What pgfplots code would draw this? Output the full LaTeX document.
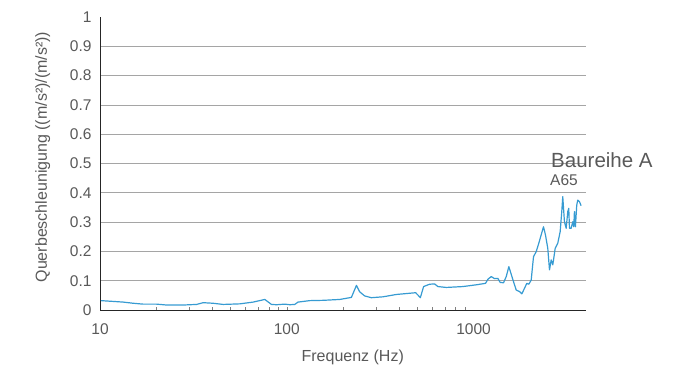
\documentclass[border=0pt]{standalone}
\usepackage{pgfplots}
\pgfplotsset{compat=1.18}
\usepackage{fontspec}
\setmainfont{Liberation Sans}
\definecolor{curveblue}{RGB}{55,155,210}
\definecolor{txtgray}{RGB}{89,89,89}
\definecolor{gridgray}{RGB}{165,165,165}

\begin{document}
\begin{tikzpicture}[x=1pt,y=1pt]
\useasboundingbox (0,0) rectangle (684,370);
\begin{axis}[
  at={(100pt,60pt)}, anchor=south west,
  scale only axis, width=486pt, height=293pt,
  xmode=log, xmin=10, xmax=4000,
  ymin=0, ymax=1,
  xtick={10,100,1000},
  log ticks with fixed point,
  /pgf/number format/1000 sep={},
  ytick={0,0.1,...,0.91},
  extra y ticks={1},
  extra y tick style={grid=none},
  yticklabel style={/pgf/number format/fixed, /pgf/number format/precision=1},
  /pgf/number format/assume math mode=true,
  ymajorgrids, xmajorgrids=false,
  major grid style={gridgray, line width=0.8pt},
  axis x line*=bottom, axis y line*=left,
  axis line style={black!85, line width=0.9pt, -},
  major tick length=0pt, minor tick num=0,
  tick label style={font=\fontsize{15.5}{17}\selectfont, text=txtgray},
  xticklabel style={yshift=-10pt},
  yticklabel style={xshift=-5pt},
  xlabel={Frequenz (Hz)},
  ylabel={Querbeschleunigung ((m/s²)/(m/s²))},
  xlabel style={at={(axis description cs:0.52,-0.163)}, anchor=center,
    font=\fontsize{16}{18}\selectfont, text=txtgray},
  ylabel style={at={(axis description cs:-0.118,0.522)}, anchor=center,
    font=\fontsize{16}{18}\selectfont, text=txtgray},
  clip=false,
]
\addplot[curveblue, line width=1.2pt, line join=round] table {
f v
10.12 0.032
11.31 0.030
13.32 0.027
15.07 0.023
17.04 0.020
20.10 0.020
22.73 0.017
27.90 0.017
32.89 0.019
35.68 0.025
40.36 0.023
45.64 0.019
56.08 0.021
66.04 0.027
76.27 0.036
82.83 0.019
88.07 0.018
97.57 0.020
103.8 0.018
110.3 0.019
114.9 0.027
132.7 0.032
156.4 0.033
192.1 0.036
221.8 0.043
236.0 0.084
245.7 0.062
261.3 0.048
283.8 0.042
327.3 0.045
386.1 0.053
489.6 0.059
503.7 0.051
518.8 0.042
540.3 0.080
581.6 0.088
618.6 0.089
644.3 0.080
714.5 0.077
876.6 0.080
1034 0.086
1159 0.091
1193 0.105
1244 0.114
1296 0.107
1349 0.108
1389 0.094
1447 0.093
1496 0.114
1545 0.148
1636 0.097
1692 0.068
1762 0.063
1813 0.055
1874 0.074
1928 0.091
1976 0.088
2035 0.102
2094 0.182
2164 0.199
2235 0.228
2301 0.256
2368 0.284
2427 0.256
2497 0.210
2550 0.137
2604 0.171
2656 0.154
2735 0.210
2824 0.228
2908 0.267
2967 0.336
3003 0.387
3066 0.301
3132 0.279
3195 0.336
3234 0.347
3262 0.279
3331 0.279
3396 0.301
3439 0.284
3468 0.336
3511 0.284
3568 0.358
3612 0.375
3688 0.370
3766 0.356
};
\end{axis}
\node[anchor=base west, inner sep=0pt, text=txtgray, font=\fontsize{20.5}{22}\selectfont] at (551,203) {Baureihe A};
\node[anchor=base west, inner sep=0pt, text=txtgray, font=\fontsize{15.5}{17}\selectfont] at (550,185) {A65};
\end{tikzpicture}
\end{document}
